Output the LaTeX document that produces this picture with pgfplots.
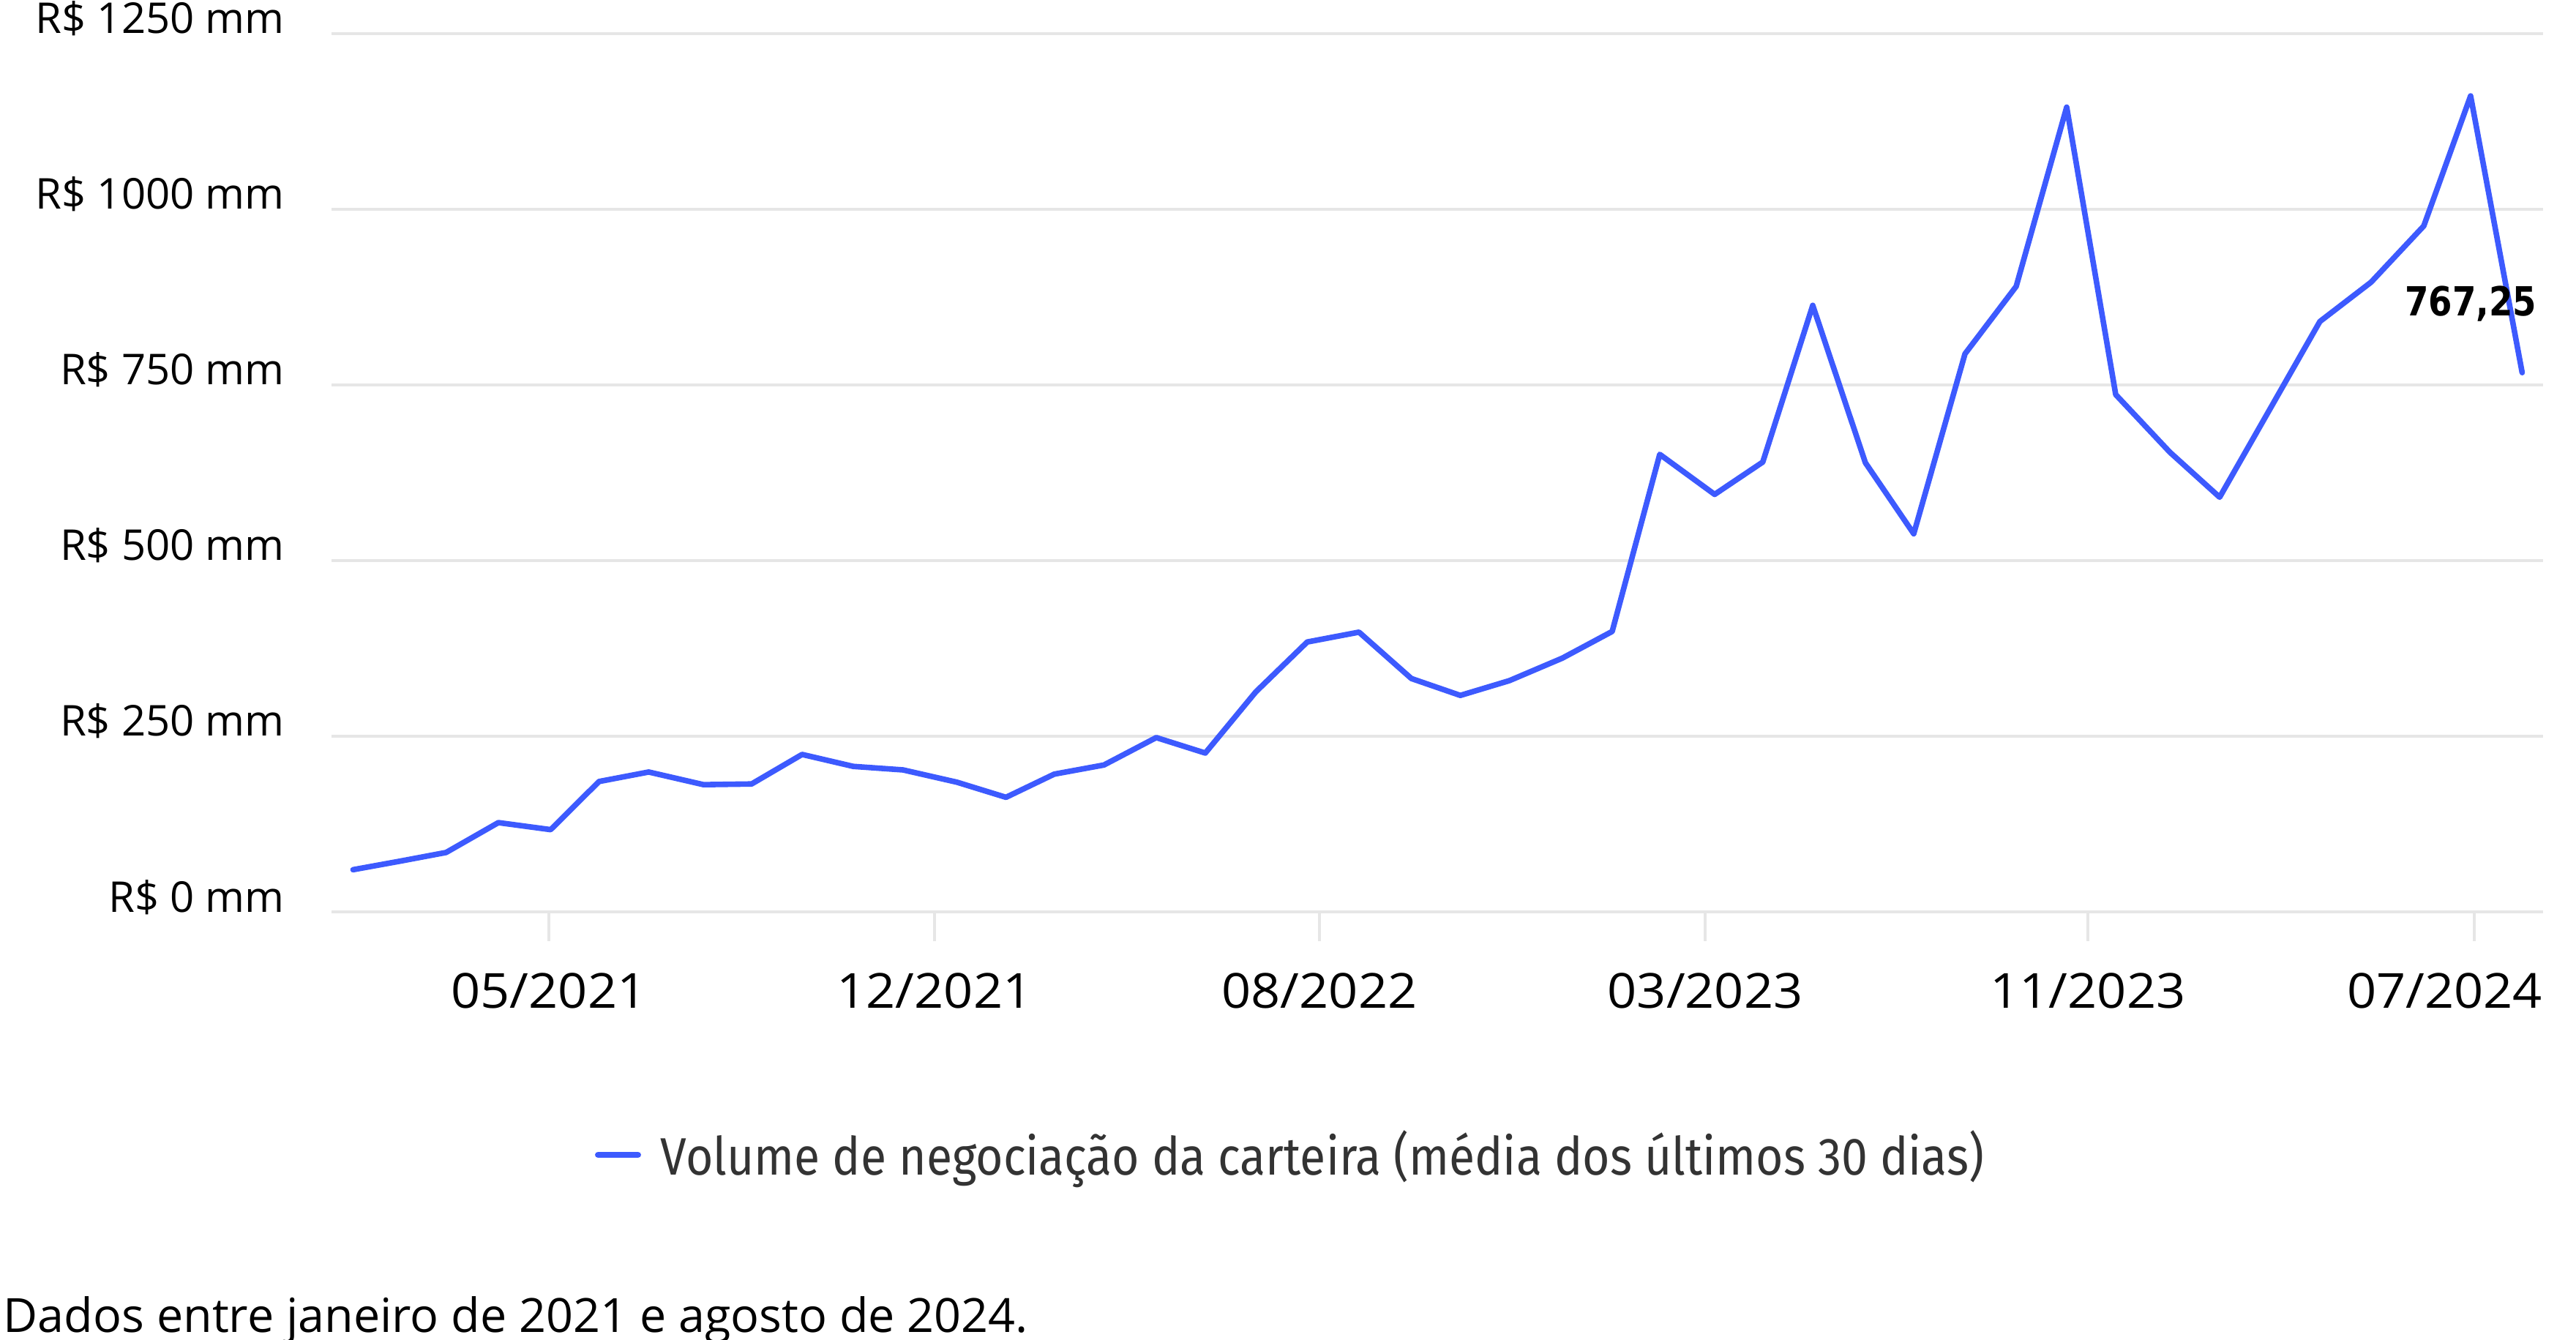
\documentclass[border=0pt]{standalone}
\usepackage{pgfplots}
\pgfplotsset{compat=1.18}
\usepackage{graphicx}
\usepackage{fontspec}
\setmainfont{Open Sans}
\newfontfamily\legendfont{Fira Sans}
\newfontfamily\dejavu{DejaVu Sans}
\definecolor{lineblue}{HTML}{3D5AFE}
\definecolor{gridgray}{HTML}{E6E6E6}
\definecolor{legendgray}{HTML}{333333}
\newcommand\xl[1]{\scalebox{1.064}[1]{#1}}
\pgfplotstableread{
i v
0 60
0.92 72
1.845 84.5
2.881 127
3.918 117
4.877 185.5
5.861 199
6.949 181
7.901 182
8.902 224
9.917 207
10.903 202
11.972 184.5
12.944 163
13.901 196
14.886 209
15.923 248
16.895 226
17.896 313
18.916 384
19.942 398
20.981 332
21.951 308
22.923 329
23.972 361
24.961 399
25.904 651
26.992 594
27.946 640
28.937 863
29.981 639
30.939 538
31.955 794
32.970 890
33.971 1145
34.943 736
36.017 654
37.003 590
37.997 715
38.990 840
40.006 896
41.050 976
41.978 1161
43.0 767.25
}\voldata
\begin{document}
\begin{tikzpicture}
\begin{axis}[
  at={(0pt,0pt)}, anchor=south west,
  scale only axis, width=755.5pt, height=300.1pt,
  xmin=-0.4265, xmax=43.415, ymin=0, ymax=1250,
  axis line style={draw=none},
  ytick={0,250,500,750,1000,1250},
  yticklabels={R\$ 0 mm,R\$ 250 mm,R\$ 500 mm,R\$ 750 mm,R\$ 1000 mm,R\$ 1250 mm},
  ymajorgrids, grid style={gridgray, line width=1pt},
  ytick style={draw=none},
  yticklabel style={anchor=base east, inner sep=0pt, xshift=-5.9pt, font=\fontsize{14.5}{17}\selectfont, text=black},
  xtick={3.882,11.527,19.158,26.804,34.391},
  xticklabels={\xl{05/2021},\xl{12/2021},\xl{08/2022},\xl{03/2023},\xl{11/2023}},
  extra x ticks={42.051}, extra x tick labels={\xl{07/2024}},
  extra x tick style={xticklabel style={anchor=base east, xshift=23.4pt}},
  xtick style={draw=gridgray, line width=1.1pt},
  major tick length=10pt, tick align=outside,
  xtick pos=bottom, ytick pos=left,
  xticklabel style={anchor=base, inner sep=0pt, yshift=-22.75pt, font=\fontsize{16.5}{20}\selectfont, text=black},
  legend style={at={(0,0)}, anchor=west, xshift=90pt, yshift=-83pt, draw=none, fill=none, inner sep=0pt, outer sep=0pt, column sep=6.75pt, nodes={inner sep=0pt}, font=\legendfont\fontsize{18}{21}\selectfont},
  legend image code/.code={\draw[#1, line width=2.2pt, line cap=round] (1.1pt,0pt) -- (14.65pt,0pt);},
]
\addplot[lineblue, line width=1.9pt, line join=round, line cap=round] table[x=i, y=v] {\voldata};
\addlegendentry{\resizebox{452pt}{\height}{\color{legendgray}Volume de negociação da carteira (média dos últimos 30 dias)}}
\node[anchor=base east, inner sep=0pt, font=\dejavu\bfseries\fontsize{13.7}{16}\selectfont] at (axis cs:43.3,848) {\resizebox{45pt}{\height}{767,25}};
\end{axis}
\node[anchor=base west, inner sep=0pt] at (-112.25pt,-143.5pt) {\resizebox{350pt}{\height}{\fontsize{16.1}{19}\selectfont Dados entre janeiro de 2021 e agosto de 2024.}};
\pgfresetboundingbox
\path[use as bounding box] (-113.25pt,-146pt) rectangle (766.75pt,311.5pt);
\end{tikzpicture}
\end{document}
